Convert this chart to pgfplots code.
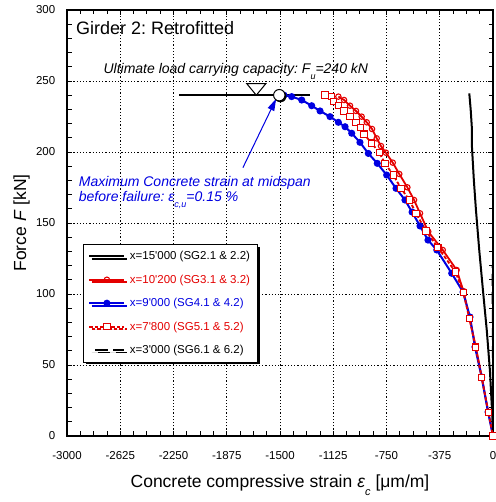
\documentclass[border=0pt]{standalone}
\usepackage{fontspec}
\setmainfont{Liberation Sans}
\usepackage{pgfplots}
\pgfplotsset{compat=1.18}
\usetikzlibrary{shadows,arrows.meta}

\definecolor{gred}{RGB}{228,0,0}
\definecolor{gblue}{RGB}{0,0,225}
\newcommand\q{\textquotesingle}

\begin{document}
\frenchspacing
\begin{tikzpicture}
\begin{axis}[
  scale only axis,
  width=426pt, height=426pt,
  xmin=-3000, xmax=0, ymin=0, ymax=300,
  xtick={-3000,-2625,-2250,-1875,-1500,-1125,-750,-375,0},
  xticklabels={-3000,-2625,-2250,-1875,-1500,-1125,-750,-375,0},
  ytick={0,50,100,150,200,250,300},
  minor x tick num=3, minor y tick num=4,
  tick align=inside,
  major tick length=5pt, minor tick length=4.5pt,
  every tick/.style={black, line width=0.8pt},
  axis line style={line width=1.2pt},
  grid=major,
  major grid style={black, line width=0.8pt, dash pattern=on 1.2pt off 2pt},
  tick label style={font=\fontsize{11.5}{13}\selectfont},
  /pgf/number format/assume math mode=true,
  xticklabel style={yshift=-11.8pt},
  yticklabel style={xshift=-8.2pt},
  xlabel={Concrete compressive strain \textit{ε}\raisebox{-8pt}{\fontsize{11}{11}\selectfont\itshape c} [μm/m]},
  ylabel={Force \textit{F} [kN]},
  xlabel style={at={(axis description cs:0.5,-0.115)}, anchor=center, font=\fontsize{17.5}{19}\selectfont},
  ylabel style={at={(axis description cs:-0.1063,0.5)}, anchor=center, font=\fontsize{17.5}{19}\selectfont},
  legend style={at={(0.0376,0.4507)}, anchor=north west, draw=black, line width=0.8pt,
    fill=white, font=\fontsize{11.5}{13}\selectfont, row sep=9.6pt,
    inner xsep=5pt, inner ysep=5pt,
    /tikz/every odd column/.append style={column sep=2.5pt},
    drop shadow={shadow xshift=2.5pt, shadow yshift=-2.5pt, fill=black, opacity=1}},
  legend cell align=left,
  legend image code/.code={\draw[mark repeat=2,mark phase=2,#1] plot coordinates {(0pt,0pt) (17.5pt,0pt) (35pt,0pt)};},
]
% ultimate load line and symbol
\draw[line width=1.8pt] (axis cs:-2210,240) -- (axis cs:-1289,240);
\draw[line width=1pt, fill=white] (axis cs:-1667,240) -- ++(-9.5pt,11.5pt) -- ++(19pt,0pt) -- cycle;

% x=15'000
\addplot[black, line width=2pt] coordinates {
 (-167,241.3) (-157,229.6) (-148,215.5) (-149,205) (-143,194.4) (-135,180.3)
 (-120,159) (-97,131) (-71,102.8) (-44,74.6) (-22,46.5) (-7,18.3) (0,0)
};
\addlegendentry{x=15\q000 (SG2.1 \& 2.2)}

% x=10'200
\addplot[gred, line width=1.8pt, mark=o, mark size=2.7pt, mark options={fill=white, solid, line width=1.1pt}] coordinates {
 (-1089,239) (-1049,236.6) (-1007,232.6) (-965,228.9) (-925,224.9) (-889,220.9)
 (-852,216.2) (-819,209.6) (-789,204.2) (-754,199.5) (-706,192.5) (-660,184.5)
 (-603,175.1) (-556,166.2) (-514,156.8) (-456,143.9) (-354,131) (-256,116.9)
 (-208,102) (-165,83) (-121,62.7) (-79,41.5) (-33,16.9) (0,0)
};
\addlegendentry{\textcolor{gred}{x=10\q200 (SG3.1 \& 3.2)}}

% x=9'000
\addplot[gblue, line width=2pt, mark=*, mark size=2.5pt] coordinates {
 (-1472,240) (-1418,239) (-1347,236.6) (-1277,232.6) (-1218,228.9) (-1148,224.9)
 (-1089,220.9) (-1042,217.8) (-995,213.2) (-937,206.8) (-878,199) (-815,192)
 (-749,183.8) (-683,174.4) (-620,166.2) (-570,157.7) (-514,147.9) (-458,138)
 (-396,131) (-291,114.6) (-211,101.4) (-162,83.8) (-127,62.7) (-80,41.5)
 (-35,16.9) (0,0)
};
\addlegendentry{\textcolor{gblue}{x=9\q000 (SG4.1 \& 4.2)}}

% x=7'800
\addplot[gred, line width=1.8pt, dash pattern=on 3.5pt off 2pt, mark=square*, mark size=3.2pt, mark options={fill=white, solid, line width=1.1pt}] coordinates {
 (-1183,240.1) (-1136,239) (-1124,235.5) (-1089,232.6) (-1049,228.9) (-1007,224.9)
 (-965,220.9) (-932,217.2) (-908,212.5) (-854,206.2) (-801,199.5) (-761,192)
 (-702,183.8) (-648,174.4) (-589,166.2) (-542,156.8) (-472,144.4) (-389,132.9)
 (-264,115.5) (-209,101.2) (-167,82.9) (-122,62.5) (-80,41.3) (-33,16.7) (0,0)
};
\addlegendentry{\textcolor{gred}{x=7\q800 (SG5.1 \& 5.2)}}

% x=3'000
\addplot[black, line width=1.8pt, dash pattern=on 12pt off 6pt, dash phase=12pt] coordinates {
 (0,0) (-2,60) (-3,120)
};
\addlegendentry{x=3\q000 (SG6.1 \& 6.2)}

% maximum strain marker
\addplot[forget plot, only marks, mark=*, mark size=5.7pt, mark options={fill=black, draw=black, xshift=1.2pt, yshift=-1.2pt}] coordinates {(-1505,240)};
\addplot[forget plot, only marks, mark=*, mark size=5.7pt, mark options={fill=white, draw=black, line width=1pt}] coordinates {(-1505,240)};

\draw[gblue, line width=1pt, -{Triangle[length=12pt,width=7pt]}] (axis cs:-1761,189) -- (axis cs:-1527,237.5);

\node[anchor=west, inner sep=0pt, font=\fontsize{18}{20}\selectfont] at (rel axis cs:0.021,0.958) {Girder 2: Retrofitted};
\node[anchor=west, inner sep=0pt, font=\fontsize{14}{16}\selectfont\itshape] at (axis cs:-2744,256.5)
  {Ultimate load carrying capacity: F\raisebox{-6pt}{\fontsize{9}{9}\selectfont u}=240 kN};
\node[anchor=west, inner sep=0pt, text=gblue, font=\fontsize{14}{16}\selectfont\itshape] at (axis cs:-2918,178.2)
  {Maximum Concrete strain at midspan};
\node[anchor=west, inner sep=0pt, text=gblue, font=\fontsize{14}{16}\selectfont\itshape] at (axis cs:-2918,166.2)
  {before failure: ε\raisebox{-6.5pt}{\fontsize{9}{9}\selectfont c,u}=0.15 \%};
\end{axis}
\pgfresetboundingbox
\path ([shift={(-67pt,-66pt)}]current axis.south west) rectangle ([shift={(2pt,10pt)}]current axis.north east);
\end{tikzpicture}
\end{document}
